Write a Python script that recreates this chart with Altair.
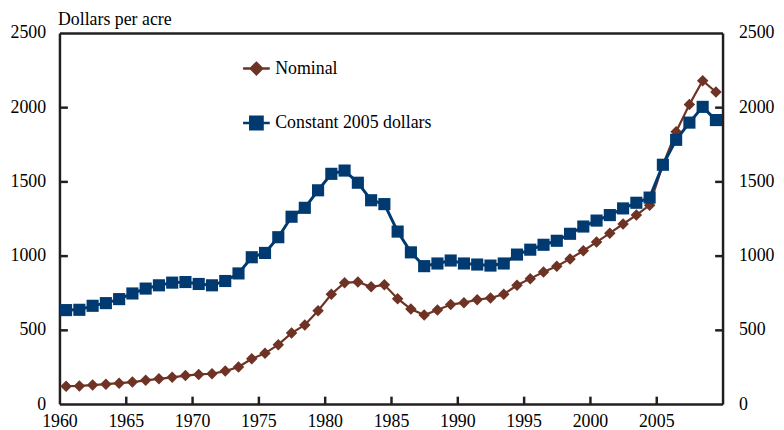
import altair as alt
import pandas as pd

years = list(range(1960, 2010))
nominal = [120, 122, 128, 134, 141, 148, 160, 170, 180, 192,
           200, 204, 222, 250, 305, 342, 400, 478, 533, 629,
           740, 818, 822, 790, 803, 710, 640, 600, 633, 670,
           683, 703, 715, 740, 800, 845, 890, 929, 978, 1033,
           1091, 1151, 1213, 1273, 1340, 1612, 1835, 2018, 2178, 2102]
constant = [633, 635, 662, 680, 707, 745, 778, 800, 818, 822,
            809, 800, 829, 880, 989, 1018, 1124, 1262, 1322, 1440,
            1551, 1573, 1491, 1373, 1347, 1162, 1022, 929, 947, 967,
            947, 940, 933, 947, 1007, 1040, 1073, 1100, 1147, 1196,
            1236, 1273, 1318, 1356, 1391, 1612, 1780, 1896, 2002, 1913]
series_names = ["Nominal", "Constant 2005 dollars"]
series_colors = ["#6E3324", "#003A70"]
x_ticks = [1960, 1965, 1970, 1975, 1980, 1985, 1990, 1995, 2000, 2005]
y_ticks = [0, 500, 1000, 1500, 2000, 2500]

rows = []
for name, vals in zip(series_names, [nominal, constant]):
    for yr, v in zip(years, vals):
        rows.append({"year": yr + 0.5, "value": v, "series": name})
df = pd.DataFrame(rows)

FONT = "Liberation Serif"
FS = 18
AX = "#231F20"
xs = alt.Scale(domain=[1960, 2010], nice=False, zero=False)
ys = alt.Scale(domain=[0, 2500], nice=False)

legend_paths = [
    "M-1,0L1,0M0,-0.42L0.42,0L0,0.42L-0.42,0Z",
    "M-1,0L1,0M-0.46,-0.46L0.46,-0.46L0.46,0.46L-0.46,0.46Z",
]
leg = alt.Legend(title=None, orient="none", legendX=184, legendY=21,
                 direction="vertical", symbolSize=729, symbolStrokeWidth=2.5,
                 symbolOpacity=1, labelFont=FONT, labelFontSize=FS,
                 labelColor="black", labelOffset=4, rowPadding=29, padding=0)

base = alt.Chart(df)

nom = base.transform_filter(alt.datum.series == "Nominal").mark_line(
    color=series_colors[0], strokeWidth=2.2,
    point=alt.OverlayMarkDef(shape="diamond", size=135, filled=True,
                             color=series_colors[0], opacity=1)
).encode(
    x=alt.X("year:Q", scale=xs, axis=alt.Axis(
        orient="bottom", values=x_ticks, format="d", ticks=False, grid=False,
        domainColor=AX, domainWidth=2.5, labelFont=FONT, labelFontSize=FS,
        labelColor="black", labelPadding=9, title=None, labelFlush=False)),
    y=alt.Y("value:Q", scale=ys, axis=alt.Axis(
        orient="left", values=y_ticks, format="d", ticks=False, grid=False,
        domainColor=AX, domainWidth=2.5, labelFont=FONT, labelFontSize=FS,
        labelColor="black", labelPadding=14, labelFlush=False,
        title="Dollars per acre", titleAngle=0, titleX=-2, titleY=-9,
        titleAlign="left", titleBaseline="alphabetic", titleFont=FONT,
        titleFontSize=FS, titleFontWeight="normal", titleColor="black")),
)

con = base.transform_filter(alt.datum.series == "Constant 2005 dollars").mark_line(
    color=series_colors[1], strokeWidth=3,
    point=alt.OverlayMarkDef(shape="square", size=150, filled=True,
                             color=series_colors[1], opacity=1)
).encode(
    x=alt.X("year:Q", scale=xs, axis=alt.Axis(
        orient="bottom", values=x_ticks[1:], labels=False, domain=False,
        grid=False, ticks=True, tickSize=8, tickWidth=2.5, tickColor=AX,
        offset=-8, title=None)),
    y=alt.Y("value:Q", scale=ys, axis=alt.Axis(
        orient="right", values=y_ticks, format="d", ticks=False, grid=False,
        domainColor=AX, domainWidth=2.5, labelFont=FONT, labelFontSize=FS,
        labelColor="black", labelPadding=16, labelFlush=False, title=None)),
)

hidden = base.mark_point(filled=True, opacity=0).encode(
    x=alt.X("year:Q", scale=xs, axis=alt.Axis(
        orient="top", labels=False, ticks=False, grid=False,
        domainColor=AX, domainWidth=2.5, title=None)),
    y=alt.Y("value:Q", scale=ys, axis=alt.Axis(
        orient="left", values=y_ticks[1:-1], labels=False, domain=False,
        grid=False, ticks=True, tickSize=8, tickWidth=2.5, tickColor=AX,
        offset=-8, title=None)),
    color=alt.Color("series:N", scale=alt.Scale(domain=series_names, range=series_colors), legend=leg),
    stroke=alt.Stroke("series:N", scale=alt.Scale(domain=series_names, range=series_colors), legend=leg),
    shape=alt.Shape("series:N", scale=alt.Scale(domain=series_names, range=legend_paths), legend=leg),
)

hidden2 = base.mark_point(opacity=0).encode(
    x=alt.X("year:Q", scale=xs, axis=None),
    y=alt.Y("value:Q", scale=ys, axis=alt.Axis(
        orient="right", values=y_ticks[1:-1], labels=False, domain=False,
        grid=False, ticks=True, tickSize=8, tickWidth=2.5, tickColor=AX,
        offset=-8, title=None)),
)

chart = alt.layer(nom, con, hidden, hidden2).resolve_axis(
    x="independent", y="independent"
).properties(
    width=670, height=375,
    autosize=alt.AutoSizeParams(type="none"),
    padding={"left": 52, "top": 23, "right": 54, "bottom": 24},
).configure_view(stroke=None)

chart.save("out.html", embed_options={"renderer": "svg", "actions": False})
